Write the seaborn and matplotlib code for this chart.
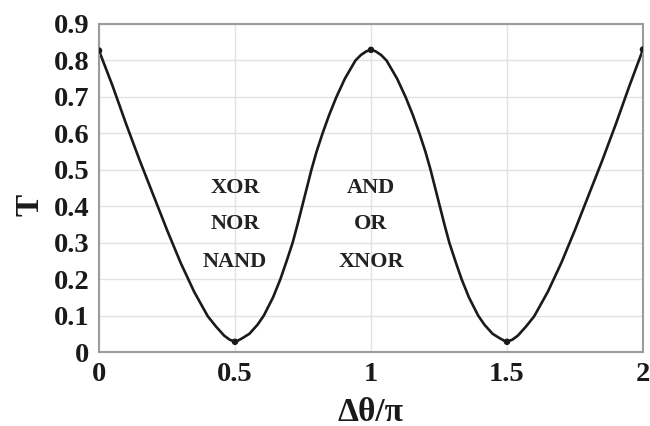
import numpy as np
import pandas as pd
import matplotlib
matplotlib.use('Agg')
import matplotlib.pyplot as plt
from matplotlib.ticker import MultipleLocator, FuncFormatter
import seaborn as sns

dtheta = [0.0, 0.05, 0.10, 0.15, 0.20, 0.25, 0.30, 0.35, 0.40, 0.43, 0.46, 0.48, 0.5,
          0.51, 0.525, 0.553, 0.583, 0.606, 0.64, 0.667, 0.690, 0.712, 0.730, 0.747,
          0.764, 0.781, 0.800, 0.822, 0.846, 0.873, 0.904, 0.943, 0.963, 0.983, 1.0,
          1.017, 1.037, 1.057, 1.096, 1.127, 1.154, 1.178, 1.200, 1.219, 1.236, 1.253,
          1.270, 1.288, 1.310, 1.333, 1.360, 1.394, 1.417, 1.447, 1.475, 1.49, 1.5,
          1.52, 1.54, 1.57, 1.60, 1.65, 1.70, 1.75, 1.80, 1.85, 1.90, 1.95, 2.0]
trans = [0.827, 0.73, 0.625, 0.525, 0.43, 0.335, 0.245, 0.165, 0.098, 0.07, 0.045, 0.034, 0.028,
         0.031, 0.037, 0.05, 0.075, 0.10, 0.15, 0.20, 0.25, 0.30, 0.35, 0.40,
         0.45, 0.50, 0.55, 0.60, 0.65, 0.70, 0.75, 0.80, 0.815, 0.825, 0.829,
         0.825, 0.815, 0.80, 0.75, 0.70, 0.65, 0.60, 0.55, 0.50, 0.45, 0.40,
         0.35, 0.30, 0.25, 0.20, 0.15, 0.10, 0.075, 0.05, 0.037, 0.031, 0.028,
         0.034, 0.045, 0.07, 0.098, 0.165, 0.245, 0.335, 0.43, 0.525, 0.625, 0.73, 0.83]

# marked points
mark_x = [0.0, 0.5, 1.0, 1.5, 2.0]
mark_t = [0.827, 0.028, 0.829, 0.028, 0.83]

# gate labels
gates_left = ['XOR', 'NOR', 'NAND']
gates_right = ['AND', 'OR', 'XNOR']
gate_y = [0.45, 0.352, 0.247]

sns.set_style('white')
plt.rcParams['font.family'] = ['Liberation Serif', 'DejaVu Serif']
plt.rcParams['font.weight'] = 'bold'

fig = plt.figure(figsize=(6.5, 4.26), dpi=100)
ax = fig.add_axes([0.1523, 0.1737, 0.8369, 0.77])

df = pd.DataFrame({'x': dtheta, 'T': trans})
sns.lineplot(data=df, x='x', y='T', color='#1a1a1a', linewidth=1.9, ax=ax, sort=False)
sns.scatterplot(x=mark_x, y=mark_t, color='#1a1a1a', s=22, edgecolor='none', ax=ax, zorder=5)

for name, y in zip(gates_left, gate_y):
    ax.text(0.5, y, name, ha='center', va='center', fontsize=16, fontweight='bold', color='#222222')
for name, y in zip(gates_right, gate_y):
    ax.text(1.0, y, name, ha='center', va='center', fontsize=16, fontweight='bold', color='#222222')

ax.set_xlim(0, 2)
ax.set_ylim(0, 0.9)
ax.xaxis.set_major_locator(MultipleLocator(0.5))
ax.xaxis.set_minor_locator(MultipleLocator(0.1))
ax.yaxis.set_major_locator(MultipleLocator(0.1))
ax.yaxis.set_minor_locator(MultipleLocator(0.02))
fmt = FuncFormatter(lambda v, p: ('%.1f' % v).rstrip('0').rstrip('.') if v != 0 else '0')
ax.xaxis.set_major_formatter(fmt)
ax.yaxis.set_major_formatter(fmt)

ax.grid(True, which='major', color='#e2e2e2', linewidth=1.0)
for s in ax.spines.values():
    s.set_color('#9c9c9c')
    s.set_linewidth(1.5)

ax.tick_params(axis='both', which='both', direction='in', colors='#9c9c9c',
               labelcolor='#1a1a1a', labelsize=20.5, width=1.2)
ax.tick_params(axis='x', which='major', length=0, pad=7)
ax.tick_params(axis='x', which='minor', length=5)
ax.tick_params(axis='y', which='both', length=6, pad=7)
for lab in ax.get_xticklabels() + ax.get_yticklabels():
    lab.set_fontweight('bold')

ax.set_xlabel('Δθ/π', fontsize=24, fontweight='bold', color='#1a1a1a')
ax.set_ylabel('T', fontsize=24, fontweight='bold', color='#1a1a1a')
ax.xaxis.label.set_va('center')
ax.xaxis.set_label_coords(0.499, -0.183)
ax.yaxis.label.set_va('center')
ax.yaxis.set_label_coords(-0.127, 0.448)

fig.savefig('out.png', dpi=100)
